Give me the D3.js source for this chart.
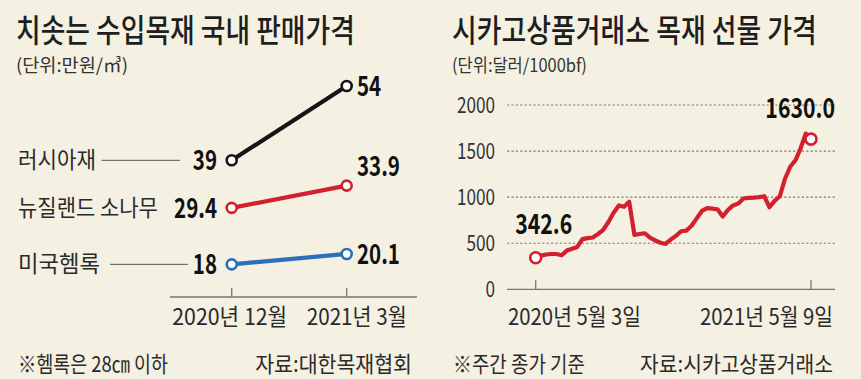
<!DOCTYPE html>
<html><head><meta charset="utf-8">
<script src="https://cdn.jsdelivr.net/npm/d3@7"></script>
<style>
html,body{margin:0;padding:0;background:#f4f0e2;}
svg{display:block;}
text{font-family:"Noto Sans CJK KR","Noto Sans",sans-serif;}
</style></head>
<body>
<svg id="c" width="861" height="379"></svg>
<script>
// ---------- data: left chart ----------
const leftPeriods = ["2020년 12월", "2021년 3월"];
const leftSeries = ["러시아재", "뉴질랜드 소나무", "미국헴록"];
const russiaValues = [39, 54];
const newZealandValues = [29.4, 33.9];
const hemlockValues = [18, 20.1];
const leftColors = ["#151515", "#d3202f", "#2a6fb7"];

// ---------- data: right chart (weekly close, USD/1000bf) ----------
const rightStartDate = "2020-05-03";
const rightEndDate = "2021-05-09";
const lumberWeekly = [342.6, 365, 378, 383, 383, 370, 420, 440, 460, 545,
  555, 562, 600, 645, 730, 830, 910, 895, 950, 590,
  600, 608, 560, 530, 505, 492, 540, 580, 630, 636,
  690, 770, 850, 880, 875, 868, 790, 860, 910, 930,
  985, 992, 995, 1000, 1010, 890, 960, 1010, 1200, 1330,
  1400, 1530, 1690, 1630.0];
const rightYTicks = [0, 500, 1000, 1500, 2000];
const rightXLabels = ["2020년 5월 3일", "2021년 5월 9일"];

const svg = d3.select("#c");
svg.append("rect").attr("width", 861).attr("height", 379).attr("fill", "#f4f0e2");

// text helper: horizontal condensing done with a scale transform
function T(g, str, x, y, o) {
  o = o || {};
  const t = g.append("text")
    .attr("font-size", o.size || 16)
    .attr("font-weight", o.weight || 400)
    .attr("fill", o.fill || "#222")
    .attr("text-anchor", o.anchor || "start")
    .text(str);
  let sx = o.sx || 1;
  if (o.len) {
    const w = t.node().getComputedTextLength();
    if (w > 0) sx = o.len / w;
  }
  t.attr("transform", `translate(${x},${y}) scale(${sx},1)`);
  return t;
}

// ================= LEFT =================
const L = svg.append("g");
T(L, "치솟는 수입목재 국내 판매가격", 16, 42, {size: 32, weight: 500, len: 339, fill: "#1e1e1e"});
T(L, "(단위:만원/㎥)", 16, 72, {size: 18, len: 112, fill: "#333"});

const lx = d3.scalePoint().domain(leftPeriods).range([231.7, 346.7]);
const ly = d3.scaleLinear().domain([0, 60]).range([353.5, 56.3]);
const axisY = 297;

L.append("line").attr("x1", 170).attr("x2", 417).attr("y1", axisY).attr("y2", axisY)
  .attr("stroke", "#777").attr("stroke-width", 1.3);
leftPeriods.forEach(p => {
  L.append("line").attr("x1", lx(p)).attr("x2", lx(p)).attr("y1", axisY).attr("y2", axisY - 9)
    .attr("stroke", "#777").attr("stroke-width", 1.3);
});
T(L, leftPeriods[0], lx(leftPeriods[0]) - 2, 325, {size: 23, anchor: "middle", len: 115, fill: "#2a2a2a"});
T(L, leftPeriods[1], lx(leftPeriods[1]) + 10, 325, {size: 23, anchor: "middle", len: 100, fill: "#2a2a2a"});

const leftData = [russiaValues, newZealandValues, hemlockValues];
const labelLens = [78, 140, 82];
const leaders = [[101.7, 180], null, [110, 188]];
const endDy = [0, -20, 0];
const line = d3.line().x((d, i) => lx(leftPeriods[i])).y(d => ly(d));

leftData.forEach((vals, k) => {
  const c = leftColors[k];
  const y0 = ly(vals[0]);
  T(L, leftSeries[k], 18, y0 + 8, {size: 23, len: labelLens[k], fill: "#2a2a2a"});
  if (leaders[k]) {
    L.append("line").attr("x1", leaders[k][0]).attr("x2", leaders[k][1]).attr("y1", y0).attr("y2", y0)
      .attr("stroke", "#555").attr("stroke-width", 1);
  }
  L.append("path").datum(vals).attr("d", line).attr("fill", "none")
    .attr("stroke", c).attr("stroke-width", 4.2);
  vals.forEach((v, i) => {
    L.append("circle").attr("cx", lx(leftPeriods[i])).attr("cy", ly(v)).attr("r", 5)
      .attr("fill", "#fff").attr("stroke", c).attr("stroke-width", 2.6);
  });
  T(L, String(vals[0]), 217, y0 + 10, {size: 27, weight: 700, anchor: "end", sx: 0.76, fill: "#111"});
  T(L, String(vals[1]), 357, ly(vals[1]) + endDy[k] + 10, {size: 27, weight: 700, sx: 0.76, fill: "#111"});
});

T(L, "※헴록은 28㎝ 이하", 18, 372, {size: 22, len: 150, fill: "#2a2a2a"});
T(L, "자료:대한목재협회", 412, 372, {size: 22, anchor: "end", len: 157, fill: "#2a2a2a"});

// ================= RIGHT =================
const R = svg.append("g");
T(R, "시카고상품거래소 목재 선물 가격", 452, 42, {size: 32, weight: 500, len: 365, fill: "#1e1e1e"});
T(R, "(단위:달러/1000bf)", 452, 72, {size: 18, len: 135, fill: "#333"});

const parse = d3.timeParse("%Y-%m-%d");
const d0 = parse(rightStartDate), d1 = parse(rightEndDate);
const dates = lumberWeekly.map((v, i) => d3.timeDay.offset(d0, 7 * i));
const rx = d3.scaleTime().domain([d0, d1]).range([535.7, 811]);
const ry = d3.scaleLinear().domain([0, 2000]).range([289.3, 105]);

rightYTicks.forEach(t => {
  if (t > 0) {
    R.append("line").attr("x1", 507).attr("x2", 835).attr("y1", ry(t)).attr("y2", ry(t))
      .attr("stroke", "#7a7a7a").attr("stroke-width", 1.1).attr("stroke-dasharray", "2.2,2.2");
  }
  T(R, String(t), 495, ry(t) + 8, {size: 22, anchor: "end", sx: 0.78, fill: "#333"});
});
R.append("line").attr("x1", 507).attr("x2", 835).attr("y1", ry(0)).attr("y2", ry(0))
  .attr("stroke", "#777").attr("stroke-width", 1.3);
[d0, d1].forEach(d => {
  R.append("line").attr("x1", rx(d)).attr("x2", rx(d)).attr("y1", ry(0)).attr("y2", ry(0) - 9)
    .attr("stroke", "#777").attr("stroke-width", 1.3);
});
T(R, rightXLabels[0], 508, 325, {size: 23, len: 133, fill: "#2a2a2a"});
T(R, rightXLabels[1], 833, 325, {size: 23, anchor: "end", len: 133, fill: "#2a2a2a"});

const rline = d3.line().x((d, i) => rx(dates[i])).y(d => ry(d)).curve(d3.curveLinear);
R.append("path").datum(lumberWeekly).attr("d", rline).attr("fill", "none")
  .attr("stroke", "#d3202f").attr("stroke-width", 4.2).attr("stroke-linejoin", "round");
const last = lumberWeekly.length - 1;
[0, last].forEach(i => {
  R.append("circle").attr("cx", rx(dates[i])).attr("cy", ry(lumberWeekly[i])).attr("r", 5.5)
    .attr("fill", "#fff").attr("stroke", "#d3202f").attr("stroke-width", 2.6);
});
T(R, lumberWeekly[0].toFixed(1), rx(dates[0]) + 8, ry(lumberWeekly[0]) - 24, {size: 28, weight: 700, anchor: "middle", sx: 0.76, fill: "#111"});
T(R, lumberWeekly[last].toFixed(1), 835, ry(lumberWeekly[last]) - 21, {size: 28, weight: 700, anchor: "end", sx: 0.76, fill: "#111"});

T(R, "※주간 종가 기준", 453, 372, {size: 22, len: 132, fill: "#2a2a2a"});
T(R, "자료:시카고상품거래소", 833, 372, {size: 22, anchor: "end", len: 193, fill: "#2a2a2a"});
</script>
</body></html>
